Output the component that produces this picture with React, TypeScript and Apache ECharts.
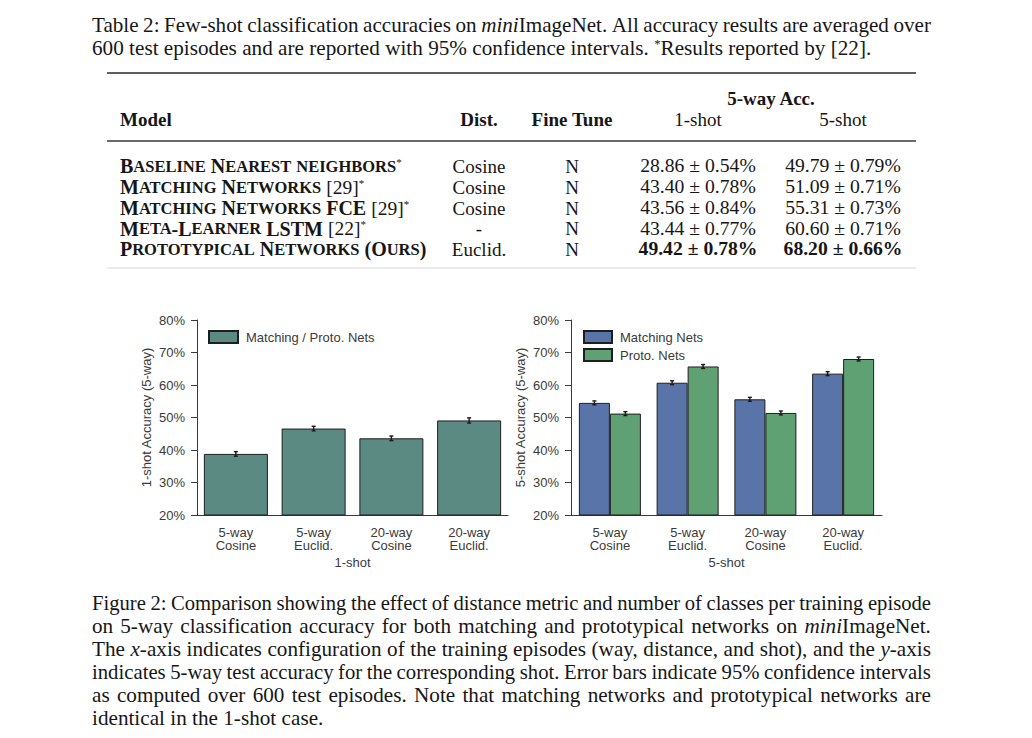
import React, { useEffect, useRef } from 'react';
import * as echarts from 'echarts';

const SERIF = '"Liberation Serif", "Times New Roman", serif';
const SANS = '"Liberation Sans", Arial, sans-serif';
const INK = '#161616';
const AX = '#3a3a3a';

// ---------- text data ----------
const tableCaption = [
  'Table 2: Few-shot classification accuracies on {i|mini}ImageNet. All accuracy results are averaged over',
  '600 test episodes and are reported with 95% confidence intervals. {sup|*}Results reported by [22].',
];
const tableHeaders = ['Model', 'Dist.', 'Fine Tune', '1-shot', '5-shot'];
const groupHeader = '5-way Acc.';
const models = [
  'Baseline Nearest neighbors*',
  'Matching Networks [29]*',
  'Matching Networks FCE [29]*',
  'Meta-Learner LSTM [22]*',
  'Prototypical Networks (Ours)',
];
const distances = ['Cosine', 'Cosine', 'Cosine', '-', 'Euclid.'];
const fineTune = ['N', 'N', 'N', 'N', 'N'];
const acc1Shot = ['28.86 ± 0.54%', '43.40 ± 0.78%', '43.56 ± 0.84%', '43.44 ± 0.77%', '49.42 ± 0.78%'];
const acc5Shot = ['49.79 ± 0.79%', '51.09 ± 0.71%', '55.31 ± 0.73%', '60.60 ± 0.71%', '68.20 ± 0.66%'];
const boldRow = 4;

const figureCaption = [
  'Figure 2: Comparison showing the effect of distance metric and number of classes per training episode',
  'on 5-way classification accuracy for both matching and prototypical networks on {i|mini}ImageNet.',
  'The {i|x}-axis indicates configuration of the training episodes (way, distance, and shot), and the {i|y}-axis',
  'indicates 5-way test accuracy for the corresponding shot. Error bars indicate 95% confidence intervals',
  'as computed over 600 test episodes. Note that matching networks and prototypical networks are',
  'identical in the 1-shot case.',
];

// ---------- chart data ----------
const configLabels = ['5-way\nCosine', '5-way\nEuclid.', '20-way\nCosine', '20-way\nEuclid.'];
const yTicks = [20, 30, 40, 50, 60, 70, 80];
const oneShotName = 'Matching / Proto. Nets';
const oneShotAcc = [38.8, 46.6, 43.6, 49.1];
const oneShotErr = [0.7, 0.7, 0.7, 0.8];
const matchingName = 'Matching Nets';
const protoName = 'Proto. Nets';
const fiveShotMatching = [54.5, 60.7, 55.6, 63.5];
const fiveShotMatchingErr = [0.6, 0.6, 0.6, 0.6];
const fiveShotProto = [51.2, 65.7, 51.4, 68.0];
const fiveShotProtoErr = [0.6, 0.6, 0.6, 0.6];

const TEAL = '#5b8a83';
const BLUE = '#5874a8';
const GREEN = '#5fa173';

const CAP_SIZE = 20;
const CAP_SCALE = 1.06;

// ---------- helpers ----------
let measureCtx: CanvasRenderingContext2D | null = null;
function textWidth(t: string, font: string) {
  if (!measureCtx) measureCtx = document.createElement('canvas').getContext('2d');
  measureCtx!.font = font;
  return measureCtx!.measureText(t).width;
}

function parseSegs(word: string) {
  const segs: { t: string; s: string }[] = [];
  const re = /\{(\w+)\|([^}]*)\}/g;
  let last = 0;
  let m: RegExpExecArray | null;
  while ((m = re.exec(word))) {
    if (m.index > last) segs.push({ t: word.slice(last, m.index), s: 'r' });
    segs.push({ t: m[2], s: m[1] });
    last = re.lastIndex;
  }
  if (last < word.length) segs.push({ t: word.slice(last), s: 'r' });
  return segs;
}

function segFont(s: string, size: number) {
  if (s === 'i') return `italic ${size}px ${SERIF}`;
  if (s === 'sup') return `${Math.round(size * 0.62)}px ${SERIF}`;
  return `${size}px ${SERIF}`;
}

function paragraphLine(line: string, x0: number, y: number, width: number, justify: boolean, size: number, scale0: number) {
  const words = line.split(' ');
  const parsed = words.map((w) => parseSegs(w));
  const raw = parsed.map((segs) => segs.reduce((a, sg) => a + textWidth(sg.t, segFont(sg.s, size)), 0));
  const rawTotal = raw.reduce((a, b) => a + b, 0);
  const rawSpace = textWidth(' ', segFont('r', size));
  let scale = scale0;
  if (justify && words.length > 1) {
    // keep a natural inter-word gap by condensing tight lines
    const minGap = 0.85 * rawSpace * scale0;
    const maxScale = (width - minGap * (words.length - 1)) / rawTotal;
    if (maxScale < scale) scale = maxScale;
  }
  const widths = raw.map((w) => w * scale);
  const total = rawTotal * scale;
  const space = rawSpace * scale;
  const gap = justify && words.length > 1 ? (width - total) / (words.length - 1) : space;
  const els: any[] = [];
  let x = x0;
  parsed.forEach((segs, k) => {
    els.push({
      type: 'text',
      x,
      y,
      scaleX: scale,
      style: {
        text: segs.map((sg) => `{${sg.s}|${sg.t}}`).join(''),
        rich: {
          r: { fontFamily: SERIF, fontSize: size, fill: INK },
          i: { fontFamily: SERIF, fontSize: size, fontStyle: 'italic', fill: INK },
          sup: { fontFamily: SERIF, fontSize: Math.round(size * 0.62), verticalAlign: 'top', fill: INK },
        },
        align: 'left',
        verticalAlign: 'middle',
      },
    });
    x += widths[k] + gap;
  });
  return els;
}

function smallCapsRich(s: string) {
  let out = '';
  let cur = '';
  let curStyle = '';
  const push = (st: string, ch: string) => {
    if (st !== curStyle) {
      if (cur) out += `{${curStyle}|${cur}}`;
      cur = '';
      curStyle = st;
    }
    cur += ch;
  };
  let inBr = false;
  for (const ch of s) {
    if (ch === '[') inBr = true;
    if (inBr) push('n', ch);
    else if (ch === '*') push('sup', ch);
    else if (/[a-z]/.test(ch)) push('s', ch.toUpperCase());
    else push('b', ch);
    if (ch === ']') inBr = false;
  }
  if (cur) out += `{${curStyle}|${cur}}`;
  return out;
}

function txt(x: number, y: number, text: string, size: number, weight: string, align: string, scaleX = 1) {
  return {
    type: 'text',
    x,
    y,
    scaleX,
    style: {
      text,
      font: `${weight} ${size}px ${SERIF}`,
      fill: INK,
      align,
      verticalAlign: 'middle',
    },
  };
}

function errSeries(axisIndex: number, values: number[], errs: number[], offset: number) {
  return {
    type: 'custom',
    xAxisIndex: axisIndex,
    yAxisIndex: axisIndex,
    z: 10,
    silent: true,
    data: values.map((v, i) => [i, v - errs[i], v + errs[i]]),
    encode: { x: 0, y: [1, 2] },
    renderItem: (params: any, api: any) => {
      const i = api.value(0);
      const lo = api.coord([i, api.value(1)]);
      const hi = api.coord([i, api.value(2)]);
      const cx = lo[0] + offset;
      const st = { stroke: '#1a1a1a', lineWidth: 1.4 };
      return {
        type: 'group',
        children: [
          { type: 'line', shape: { x1: cx, y1: lo[1], x2: cx, y2: hi[1] }, style: st },
          { type: 'line', shape: { x1: cx - 2, y1: lo[1], x2: cx + 2, y2: lo[1] }, style: st },
          { type: 'line', shape: { x1: cx - 2, y1: hi[1], x2: cx + 2, y2: hi[1] }, style: st },
        ],
      };
    },
  };
}

function buildGraphics() {
  const els: any[] = [];
  // table caption
  tableCaption.forEach((line, k) => {
    els.push(...paragraphLine(line, 92, 25 + k * 23, 839, k < tableCaption.length - 1, CAP_SIZE, CAP_SCALE));
  });
  // rules
  els.push({ type: 'line', shape: { x1: 107, y1: 73, x2: 916, y2: 73 }, style: { stroke: '#2a2a2a', lineWidth: 1.4 } });
  els.push({ type: 'line', shape: { x1: 107, y1: 141, x2: 916, y2: 141 }, style: { stroke: '#6a6a6a', lineWidth: 2 } });
  els.push({ type: 'line', shape: { x1: 107, y1: 268, x2: 916, y2: 268 }, style: { stroke: '#e4e4e4', lineWidth: 1.5 } });
  // headers
  els.push(txt(771, 98, groupHeader, 19, 'bold', 'center'));
  els.push(txt(120, 119, tableHeaders[0], 19, 'bold', 'left'));
  els.push(txt(479, 119, tableHeaders[1], 19, 'bold', 'center'));
  els.push(txt(572, 119, tableHeaders[2], 19, 'bold', 'center'));
  els.push(txt(698, 119, tableHeaders[3], 19, 'normal', 'center'));
  els.push(txt(843, 119, tableHeaders[4], 19, 'normal', 'center'));
  // rows
  const rowY = [166, 187, 208, 228.5, 249];
  models.forEach((m, r) => {
    const y = rowY[r];
    els.push({
      type: 'text',
      x: 120,
      y,
      style: {
        text: smallCapsRich(m),
        rich: {
          b: { fontFamily: SERIF, fontWeight: 'bold', fontSize: 20, fill: INK },
          s: { fontFamily: SERIF, fontWeight: 'bold', fontSize: 16.5, fill: INK },
          n: { fontFamily: SERIF, fontWeight: 'normal', fontSize: 19.5, fill: INK },
          sup: { fontFamily: SERIF, fontSize: 11, verticalAlign: 'top', fill: INK },
        },
        align: 'left',
        verticalAlign: 'middle',
      },
    });
    const w = r === boldRow ? 'bold' : 'normal';
    els.push(txt(479, y, distances[r], 19, 'normal', 'center'));
    els.push(txt(572, y, fineTune[r], 19, 'normal', 'center'));
    els.push(txt(698, y, acc1Shot[r], 19, w, 'center', 1.035));
    els.push(txt(843, y, acc5Shot[r], 19, w, 'center', 1.035));
  });
  // figure caption
  figureCaption.forEach((line, k) => {
    els.push(...paragraphLine(line, 92, 603 + k * 23, 839, k < figureCaption.length - 1, CAP_SIZE, CAP_SCALE));
  });
  return els;
}

function axisPair(i: number, xName: string, yName: string) {
  const x = {
    type: 'category',
    gridIndex: i,
    data: configLabels,
    axisLine: { show: true, lineStyle: { color: AX, width: 1 } },
    axisTick: { show: false },
    axisLabel: { color: AX, fontSize: 13, lineHeight: 13, margin: 11, fontFamily: SANS },
    name: xName,
    nameLocation: 'middle',
    nameGap: 41,
    nameTextStyle: { color: AX, fontSize: 13, fontFamily: SANS },
  };
  const y = {
    type: 'value',
    gridIndex: i,
    min: yTicks[0],
    max: yTicks[yTicks.length - 1],
    interval: 10,
    axisLine: { show: true, lineStyle: { color: AX, width: 1 } },
    axisTick: { show: true, inside: false, length: 6, lineStyle: { color: AX } },
    splitLine: { show: false },
    axisLabel: { formatter: '{value}%', color: AX, fontSize: 13, margin: 12, fontFamily: SANS },
    name: yName,
    nameLocation: 'middle',
    nameGap: 44,
    nameRotate: 90,
    nameTextStyle: { color: AX, fontSize: 13, fontFamily: SANS },
  };
  return { x, y };
}

export default function App() {
  const ref = useRef<HTMLDivElement>(null);
  useEffect(() => {
    if (!ref.current) return;
    const chart = echarts.init(ref.current, undefined, { renderer: 'svg' });
    const a0 = axisPair(0, '1-shot', '1-shot Accuracy (5-way)');
    const a1 = axisPair(1, '5-shot', '5-shot Accuracy (5-way)');
    const border = { borderColor: '#1e1e1e', borderWidth: 1 };
    const option: any = {
      animation: false,
      backgroundColor: '#ffffff',
      textStyle: { fontFamily: SANS },
      grid: [
        { left: 197, top: 320, width: 311, height: 195 },
        { left: 571, top: 320, width: 311, height: 195 },
      ],
      xAxis: [a0.x, a1.x],
      yAxis: [a0.y, a1.y],
      legend: [
        {
          data: [oneShotName],
          left: 208,
          top: 330,
          padding: 0,
          itemWidth: 29,
          itemHeight: 12,
          icon: 'rect',
          textStyle: { color: AX, fontSize: 13, fontFamily: SANS, padding: [0, 0, 0, 3] },
        },
        {
          data: [matchingName, protoName],
          orient: 'vertical',
          left: 583,
          top: 330,
          padding: 0,
          itemGap: 4,
          itemWidth: 28,
          itemHeight: 12,
          icon: 'rect',
          textStyle: { color: AX, fontSize: 13, fontFamily: SANS, padding: [0, 0, 0, 3] },
        },
      ],
      series: [
        {
          type: 'bar',
          name: oneShotName,
          xAxisIndex: 0,
          yAxisIndex: 0,
          data: oneShotAcc,
          barWidth: 64,
          itemStyle: { color: TEAL, ...border },
        },
        {
          type: 'bar',
          name: matchingName,
          xAxisIndex: 1,
          yAxisIndex: 1,
          data: fiveShotMatching,
          barWidth: 31,
          barGap: '0%',
          itemStyle: { color: BLUE, ...border },
        },
        {
          type: 'bar',
          name: protoName,
          xAxisIndex: 1,
          yAxisIndex: 1,
          data: fiveShotProto,
          barWidth: 31,
          barGap: '0%',
          itemStyle: { color: GREEN, ...border },
        },
        errSeries(0, oneShotAcc, oneShotErr, 0),
        errSeries(1, fiveShotMatching, fiveShotMatchingErr, -15.5),
        errSeries(1, fiveShotProto, fiveShotProtoErr, 15.5),
      ],
      graphic: { elements: buildGraphics() },
    };
    chart.setOption(option);
    return () => chart.dispose();
  }, []);
  return (
    <div
      ref={ref}
      style={{ position: 'fixed', left: 0, top: 0, width: 1032, height: 738, background: '#fff' }}
    />
  );
}
